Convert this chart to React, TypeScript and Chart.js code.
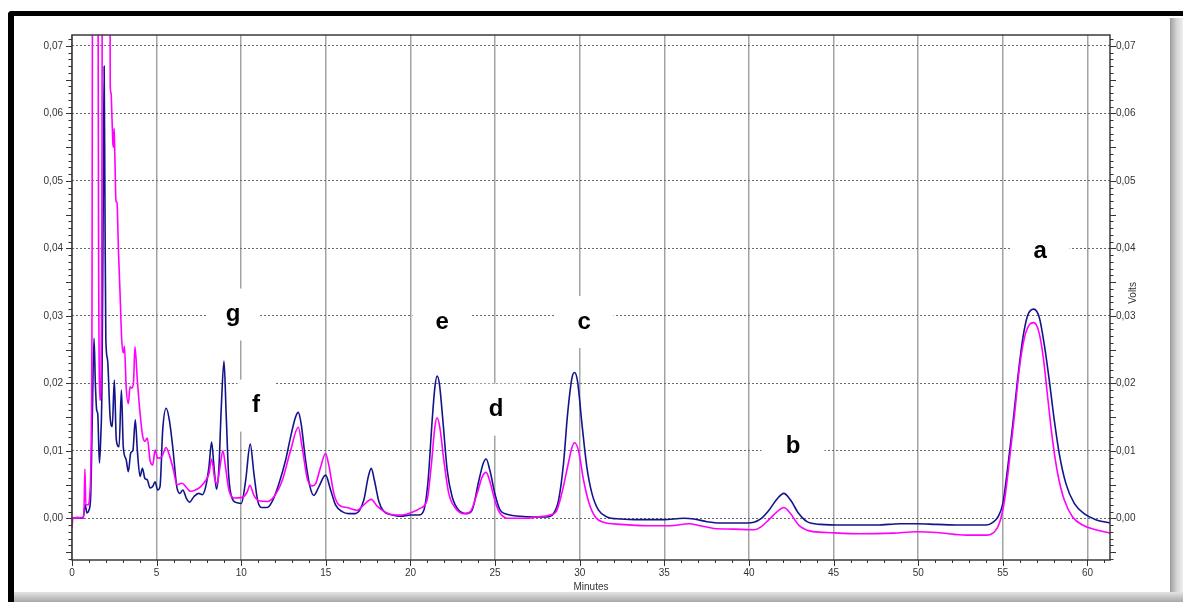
import React, { useEffect, useRef } from 'react';
import { Chart, registerables } from 'chart.js';

Chart.register(...registerables);

// ---- data (minutes / volts) ----
const blueTimes = [
  0, 0.3, 0.65, 0.78, 0.88, 1.0, 1.1, 1.2, 1.3, 1.38, 1.46, 1.52, 1.62, 1.7, 1.77, 1.84, 1.9, 1.95, 2.0, 2.1,
  2.25, 2.38, 2.5, 2.62, 2.78, 2.92, 3.03, 3.2, 3.33, 3.47, 3.6, 3.74, 3.86, 4.02, 4.16, 4.31, 4.45, 4.61, 4.77, 4.91,
  5.06, 5.2, 5.36, 5.56, 5.75, 5.95, 6.19, 6.38, 6.55, 6.75, 6.95, 7.2, 7.48, 7.7, 7.9, 8.09, 8.25, 8.39, 8.54, 8.68,
  8.82, 8.98, 9.11, 9.25, 9.47, 9.76, 10.0, 10.26, 10.53, 10.75, 10.98, 11.24, 11.54, 11.83, 12.22, 12.62, 12.91, 13.21, 13.37, 13.54,
  13.8, 14.06, 14.29, 14.59, 14.98, 15.28, 15.57, 15.96, 16.36, 16.75, 17.24, 17.5, 17.68, 17.87, 18.13, 18.43, 18.92, 19.41, 20.0, 20.49,
  20.79, 21.04, 21.28, 21.44, 21.57, 21.71, 21.93, 22.17, 22.46, 22.85, 23.35, 23.64, 24.04, 24.29, 24.47, 24.7, 25.0, 25.3, 25.69, 26.48,
  27.27, 28.06, 28.45, 28.75, 29.04, 29.28, 29.54, 29.69, 29.87, 30.13, 30.42, 30.72, 31.11, 31.61, 32.4, 33.58, 34.96, 36.14, 36.74, 37.52,
  38.31, 39.89, 40.29, 40.69, 41.18, 41.67, 42.06, 42.45, 42.94, 43.43, 44.22, 45.59, 47.55, 48.92, 49.9, 51.08, 52.45, 54.02, 54.41, 54.71,
  55.0, 55.29, 55.59, 55.88, 56.18, 56.47, 56.82, 57.16, 57.45, 57.75, 58.04, 58.33, 58.73, 59.22, 59.8, 60.49, 61.33,
];
const blueVolts = [
  0, 0.0001, 0, 0.002, 0.0008, 0.0012, 0.003, 0.015, 0.0267, 0.02, 0.016, 0.0155, 0.0082, 0.012, 0.0195, 0.045, 0.067, 0.045, 0.0265, 0.0235,
  0.0151, 0.0136, 0.0205, 0.0116, 0.0106, 0.019, 0.0106, 0.0087, 0.0069, 0.0097, 0.0101, 0.0146, 0.0101, 0.0062, 0.0074, 0.0059, 0.0057, 0.0045, 0.0047, 0.0054,
  0.0042, 0.0047, 0.0131, 0.0163, 0.0146, 0.0106, 0.0047, 0.0037, 0.0042, 0.003, 0.0024, 0.0032, 0.0037, 0.0035, 0.0047, 0.0076, 0.0113, 0.0076, 0.0043, 0.0075,
  0.0164, 0.0233, 0.0154, 0.0066, 0.0029, 0.0023, 0.0022, 0.0056, 0.011, 0.0066, 0.0025, 0.0016, 0.0016, 0.0025, 0.0051, 0.0086, 0.012, 0.015, 0.0157, 0.014,
  0.0086, 0.0047, 0.0034, 0.0047, 0.0064, 0.0042, 0.002, 0.001, 0.0007, 0.0007, 0.0027, 0.0061, 0.0074, 0.0056, 0.0025, 0.001, 0.0005, 0.0003, 0.0005, 0.0005,
  0.0012, 0.0056, 0.0145, 0.0194, 0.0211, 0.0199, 0.014, 0.0071, 0.0032, 0.0012, 0.0007, 0.0012, 0.0056, 0.0081, 0.0088, 0.007, 0.0035, 0.0012, 0.0006, 0.0003,
  0.0002, 0.0002, 0.0007, 0.0027, 0.0081, 0.0154, 0.0208, 0.0216, 0.0203, 0.014, 0.0076, 0.0037, 0.0012, 0.0002, -0.0001, -0.0002, -0.0002, 0.0, -0.0001, -0.0005,
  -0.0007, -0.0007, -0.0006, -0.0001, 0.0012, 0.0029, 0.0037, 0.0027, 0.0007, -0.0005, -0.0009, -0.001, -0.001, -0.0008, -0.0008, -0.0009, -0.001, -0.001, -0.0006, 0.0002,
  0.0022, 0.0076, 0.014, 0.0208, 0.0267, 0.0301, 0.031, 0.0297, 0.0257, 0.0203, 0.0145, 0.0096, 0.0051, 0.0022, 0.0007, -0.0002, -0.0007,
];

const magentaTimes = [
  0, 0.05, 0.3, 0.7, 0.76, 0.82, 0.95, 1.05, 1.12, 1.18, 1.24, 1.5, 1.57, 1.65, 1.75, 1.82, 2.2, 2.26, 2.31, 2.36,
  2.42, 2.46, 2.49, 2.53, 2.6, 2.66, 2.7, 2.74, 2.84, 2.94, 3.03, 3.1, 3.2, 3.33, 3.43, 3.53, 3.63, 3.72, 3.86, 4.02,
  4.18, 4.31, 4.45, 4.61, 4.77, 4.91, 5.06, 5.3, 5.56, 5.75, 5.99, 6.2, 6.5, 6.75, 7.0, 7.3, 7.6, 7.9, 8.09, 8.25,
  8.43, 8.58, 8.74, 8.92, 9.07, 9.27, 9.57, 10.06, 10.35, 10.51, 10.75, 11.04, 11.54, 11.93, 12.42, 12.91, 13.37, 13.6, 13.9, 14.19,
  14.39, 14.69, 14.98, 15.18, 15.47, 15.77, 16.26, 16.85, 17.24, 17.68, 18.03, 18.52, 19.02, 19.51, 20.0, 20.59, 20.98, 21.22, 21.44, 21.57,
  21.73, 21.97, 22.26, 22.66, 23.15, 23.54, 23.94, 24.23, 24.47, 24.72, 25.0, 25.3, 25.89, 26.68, 27.47, 28.25, 28.61, 28.94, 29.28, 29.54,
  29.69, 29.93, 30.23, 30.52, 30.92, 31.41, 32.4, 33.97, 35.36, 36.44, 37.13, 37.92, 39.1, 40.29, 40.69, 41.18, 41.67, 42.06, 42.45, 42.94,
  43.63, 44.61, 46.57, 48.53, 49.9, 51.08, 52.84, 54.02, 54.51, 54.8, 55.1, 55.39, 55.69, 55.98, 56.27, 56.57, 56.82, 57.12, 57.39, 57.65,
  57.94, 58.24, 58.63, 59.12, 59.71, 60.49, 61.33,
];
const magentaVolts = [
  -0.0015, 0, 0.0001, 0.0001, 0.0073, 0.002, 0.002, 0.0035, 0.009, 0.03, 0.12, 0.12, 0.04, 0.0175, 0.03, 0.12, 0.12, 0.064, 0.063, 0.0595,
  0.0555, 0.055, 0.0578, 0.054, 0.047, 0.0468, 0.044, 0.04, 0.0333, 0.0264, 0.0245, 0.0255, 0.0195, 0.017, 0.0195, 0.0193, 0.02, 0.0254, 0.0205, 0.0156,
  0.0121, 0.0114, 0.0119, 0.0086, 0.0079, 0.0101, 0.0089, 0.0091, 0.0105, 0.0094, 0.0072, 0.005, 0.0052, 0.0046, 0.004, 0.0042, 0.0047, 0.0056, 0.0066, 0.0088,
  0.0059, 0.0051, 0.0076, 0.01, 0.0076, 0.0042, 0.003, 0.0031, 0.0039, 0.0049, 0.0034, 0.0026, 0.0025, 0.0032, 0.0056, 0.01, 0.0135, 0.0105, 0.0059, 0.0048,
  0.0051, 0.0076, 0.0096, 0.0078, 0.0037, 0.002, 0.0016, 0.0012, 0.002, 0.0028, 0.0018, 0.0009, 0.0005, 0.0005, 0.0008, 0.0015, 0.0027, 0.0076, 0.0135, 0.0149,
  0.0135, 0.0086, 0.0037, 0.0015, 0.0007, 0.001, 0.0037, 0.0061, 0.0068, 0.0052, 0.0025, 0.0007, 0.0, 0.0, 0.0002, 0.0005, 0.001, 0.0037, 0.0076, 0.0105,
  0.0112, 0.01, 0.0056, 0.0025, 0.0002, -0.0006, -0.0009, -0.0011, -0.0011, -0.0008, -0.0011, -0.0015, -0.0016, -0.0017, -0.0013, -0.0002, 0.001, 0.0016, 0.0007, -0.001,
  -0.0019, -0.0021, -0.0023, -0.0022, -0.002, -0.0021, -0.0025, -0.0025, -0.002, -0.0007, 0.0027, 0.0086, 0.0154, 0.0223, 0.0267, 0.0287, 0.029, 0.0277, 0.0238, 0.0179,
  0.0115, 0.0066, 0.0027, 0.0002, -0.001, -0.0017, -0.0022,
];

const xTicks = [0, 5, 10, 15, 20, 25, 30, 35, 40, 45, 50, 55, 60];
const yTicks = [0, 0.01, 0.02, 0.03, 0.04, 0.05, 0.06, 0.07];

const peakLabels = ['a', 'b', 'c', 'd', 'e', 'f', 'g'];
const peakLabelTimes = [57.2, 42.6, 30.26, 25.06, 21.87, 10.87, 9.52];
const peakLabelVolts = [0.0395, 0.0107, 0.0291, 0.0161, 0.029, 0.0167, 0.0302];

const xAxisTitle = 'Minutes';
const yAxisTitle = 'Volts';

// ---- styling ----
const X_MIN = 0;
const X_MAX = 61.33;
const Y_MIN = -0.00618;
const Y_MAX = 0.07163;
const labelBoxWidth: Record<string, number> = { a: 59, b: 63, c: 59, d: 59, e: 59, f: 37, g: 52 };
const FONT = '"Liberation Sans", Arial, sans-serif';

const toPoints = (ts: number[], vs: number[]) => ts.map((t, i) => ({ x: t, y: vs[i] }));

const fmtVolt = (v: number) => v.toFixed(2).replace('.', ',');

const decorPlugin = {
  id: 'decor',
  beforeDatasetsDraw(chart: any) {
    const { ctx, scales } = chart;
    const x = scales.x;
    const y = scales.y;
    ctx.save();
    ctx.fillStyle = '#ffffff';
    peakLabels.forEach((lab, i) => {
      const px = x.getPixelForValue(peakLabelTimes[i]);
      const py = y.getPixelForValue(peakLabelVolts[i]);
      const w = labelBoxWidth[lab] || 56;
      const h = 52;
      ctx.fillRect(px - w / 2, py - h / 2, w, h);
    });
    ctx.restore();
  },
  afterDraw(chart: any) {
    const { ctx, chartArea, scales } = chart;
    const x = scales.x;
    const y = scales.y;
    const { left, right, top, bottom } = chartArea;
    ctx.save();
    // frame of plot area
    ctx.strokeStyle = '#3a3a3a';
    ctx.lineWidth = 1.5;
    ctx.strokeRect(left, top, right - left, bottom - top);

    // y ticks (both sides)
    ctx.lineWidth = 1;
    ctx.strokeStyle = '#333';
    ctx.beginPath();
    const iMin = Math.ceil(Y_MIN / 0.001 - 1e-6);
    const iMax = Math.floor(Y_MAX / 0.001 + 1e-6);
    for (let i = iMin; i <= iMax; i++) {
      const py = Math.round(y.getPixelForValue(i * 0.001)) + 0.5;
      const len = i % 5 === 0 ? 6 : 3.5;
      ctx.moveTo(left - len, py);
      ctx.lineTo(left, py);
      ctx.moveTo(right, py);
      ctx.lineTo(right + len, py);
    }
    // x ticks
    for (let m = 0; m <= Math.floor(X_MAX); m++) {
      const px = Math.round(x.getPixelForValue(m)) + 0.5;
      const len = m % 5 === 0 ? 6 : 3;
      ctx.moveTo(px, bottom);
      ctx.lineTo(px, bottom + len);
    }
    ctx.stroke();

    // axis titles
    ctx.fillStyle = '#333';
    ctx.font = `10px ${FONT}`;
    ctx.textAlign = 'center';
    ctx.textBaseline = 'middle';
    ctx.fillText(xAxisTitle, (left + right) / 2, 587);
    ctx.save();
    ctx.translate(right + 23, y.getPixelForValue(0.0334));
    ctx.rotate(-Math.PI / 2);
    ctx.fillText(yAxisTitle, 0, 0);
    ctx.restore();

    // peak letters
    ctx.fillStyle = '#000';
    ctx.font = `bold 24px ${FONT}`;
    ctx.textAlign = 'center';
    ctx.textBaseline = 'middle';
    peakLabels.forEach((lab, i) => {
      ctx.fillText(lab, x.getPixelForValue(peakLabelTimes[i]), y.getPixelForValue(peakLabelVolts[i]));
    });
    ctx.restore();
  },
};

export default function App() {
  const canvasRef = useRef<HTMLCanvasElement | null>(null);

  useEffect(() => {
    if (!canvasRef.current) return;
    const chart = new Chart(canvasRef.current, {
      type: 'line',
      data: {
        datasets: [
          {
            label: 'trace 2',
            data: toPoints(magentaTimes, magentaVolts),
            borderColor: '#ff00ff',
            borderWidth: 1.6,
            pointRadius: 0,
            cubicInterpolationMode: 'monotone',
            fill: false,
            yAxisID: 'y',
          },
          {
            label: 'trace 1',
            data: toPoints(blueTimes, blueVolts),
            borderColor: '#14148a',
            borderWidth: 1.6,
            pointRadius: 0,
            cubicInterpolationMode: 'monotone',
            fill: false,
            yAxisID: 'y',
          },
        ],
      },
      options: {
        responsive: false,
        animation: false,
        events: [],
        layout: { padding: { top: 35, left: 0, right: 0, bottom: 0 } },
        plugins: { legend: { display: false }, tooltip: { enabled: false } },
        scales: {
          x: {
            type: 'linear',
            min: X_MIN,
            max: X_MAX,
            afterBuildTicks: (s: any) => {
              s.ticks = xTicks.map((v) => ({ value: v }));
            },
            afterFit: (s: any) => {
              s.height = 42;
            },
            ticks: {
              autoSkip: false,
              maxRotation: 0,
              padding: 7,
              color: '#333',
              font: { family: FONT, size: 10 },
              callback: (v: any) => String(v),
            },
            grid: { color: '#a3a3a3', lineWidth: 1.5, drawTicks: false },
            border: { display: false },
          },
          y: {
            type: 'linear',
            position: 'left',
            min: Y_MIN,
            max: Y_MAX,
            afterBuildTicks: (s: any) => {
              s.ticks = yTicks.map((v) => ({ value: v }));
            },
            afterFit: (s: any) => {
              s.width = 72;
            },
            ticks: {
              padding: 9,
              color: '#333',
              font: { family: FONT, size: 10 },
              callback: (v: any) => fmtVolt(Number(v)),
            },
            grid: { color: '#6a6a6a', lineWidth: 1, drawTicks: false },
            border: { display: false, dash: [2, 2] },
          },
          y2: {
            type: 'linear',
            position: 'right',
            min: Y_MIN,
            max: Y_MAX,
            afterBuildTicks: (s: any) => {
              s.ticks = yTicks.map((v) => ({ value: v }));
            },
            afterFit: (s: any) => {
              s.width = 73;
            },
            ticks: {
              padding: 6,
              color: '#333',
              font: { family: FONT, size: 10 },
              callback: (v: any) => fmtVolt(Number(v)),
            },
            grid: { drawOnChartArea: false, drawTicks: false },
            border: { display: false },
          },
        },
      },
      plugins: [decorPlugin],
    } as any);
    return () => chart.destroy();
  }, []);

  return (
    <div style={{ position: 'fixed', left: 0, top: 0, width: 1183, height: 602, background: '#fff', overflow: 'hidden' }}>
      <div style={{ position: 'absolute', left: 8, top: 11, width: 1175, height: 5, background: '#000', borderTopLeftRadius: 4 }} />
      <div style={{ position: 'absolute', left: 8, top: 11, width: 6, height: 591, background: '#000', borderTopLeftRadius: 4 }} />
      <div
        style={{
          position: 'absolute',
          left: 1170,
          top: 18,
          width: 13,
          height: 574,
          background: 'linear-gradient(to right, #9c9c9c, #d4d4d4 50%, #efefef)',
        }}
      />
      <div
        style={{
          position: 'absolute',
          left: 14,
          top: 592,
          width: 1169,
          height: 10,
          background: 'linear-gradient(to bottom, #e4e4e4, #a8a8a8)',
        }}
      />
      <canvas ref={canvasRef} width={1183} height={602} style={{ position: 'absolute', left: 0, top: 0 }} />
    </div>
  );
}
